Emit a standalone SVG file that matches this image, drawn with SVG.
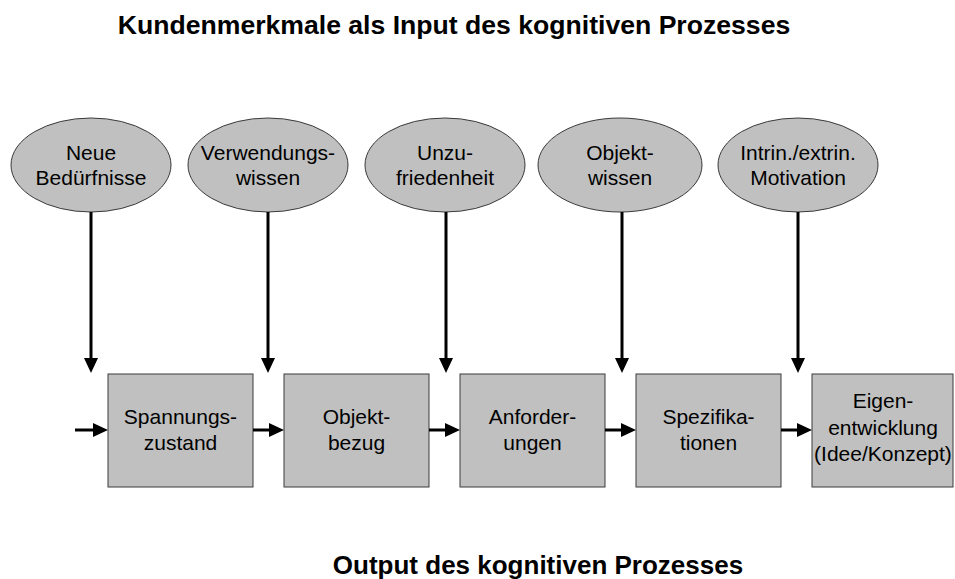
<svg xmlns="http://www.w3.org/2000/svg" width="955" height="579" viewBox="0 0 955 579">
<defs>
<marker id="ah" markerUnits="userSpaceOnUse" markerWidth="16" markerHeight="15" refX="0" refY="7" orient="auto" overflow="visible">
<path d="M0,0 L15,7 L0,14 Z" fill="#000"/>
</marker>
<style>
.n{fill:#C0C0C0;stroke:#3a3a3a;stroke-width:1}
.t{font-family:"Liberation Sans",Arial,sans-serif;font-size:21px;fill:#000;text-anchor:middle}
.h{font-family:"Liberation Sans",Arial,sans-serif;font-size:26px;font-weight:bold;fill:#000;text-anchor:middle}
.c line{stroke:#000;stroke-width:3;marker-end:url(#ah)}
</style>
</defs>
<rect width="955" height="579" fill="#fff"/>
<text class="h" x="454" y="34" style="font-size:26.6px">Kundenmerkmale als Input des kognitiven Prozesses</text>
<text class="h" x="538" y="574">Output des kognitiven Prozesses</text>

<g id="e1"><ellipse class="n" cx="91" cy="165" rx="80" ry="47"/><text class="t" x="91" y="160">Neue</text><text class="t" x="91" y="185">Bedürfnisse</text></g>
<g id="e2"><ellipse class="n" cx="268" cy="165" rx="80" ry="47"/><text class="t" x="268" y="160">Verwendungs-</text><text class="t" x="268" y="185">wissen</text></g>
<g id="e3"><ellipse class="n" cx="445" cy="165" rx="80" ry="47"/><text class="t" x="445" y="160">Unzu-</text><text class="t" x="445" y="185">friedenheit</text></g>
<g id="e4"><ellipse class="n" cx="620" cy="165" rx="82" ry="47"/><text class="t" x="620" y="160">Objekt-</text><text class="t" x="620" y="185">wissen</text></g>
<g id="e5"><ellipse class="n" cx="798" cy="165" rx="80" ry="47"/><text class="t" x="798" y="160">Intrin./extrin.</text><text class="t" x="798" y="185">Motivation</text></g>

<g id="b1"><rect class="n" x="108" y="374" width="145" height="113"/><text class="t" x="180.5" y="424">Spannungs-</text><text class="t" x="180.5" y="450">zustand</text></g>
<g id="b2"><rect class="n" x="284" y="374" width="145" height="113"/><text class="t" x="356.5" y="424">Objekt-</text><text class="t" x="356.5" y="450">bezug</text></g>
<g id="b3"><rect class="n" x="460" y="374" width="145" height="113"/><text class="t" x="532.5" y="424">Anforder-</text><text class="t" x="532.5" y="450">ungen</text></g>
<g id="b4"><rect class="n" x="636" y="374" width="145" height="113"/><text class="t" x="708.5" y="424">Spezifika-</text><text class="t" x="708.5" y="450">tionen</text></g>
<g id="b5"><rect class="n" x="812" y="374" width="141" height="113"/><text class="t" x="883" y="408">Eigen-</text><text class="t" x="883" y="435">entwicklung</text><text class="t" x="883" y="461">(Idee/Konzept)</text></g>

<g id="connectors" class="c">
<line x1="91" y1="212" x2="91" y2="358"/>
<line x1="268" y1="212" x2="268" y2="358"/>
<line x1="446" y1="212" x2="446" y2="358"/>
<line x1="622" y1="212" x2="622" y2="358"/>
<line x1="798" y1="212" x2="798" y2="358"/>
<line x1="75" y1="430" x2="93" y2="430"/>
<line x1="253" y1="430" x2="269" y2="430"/>
<line x1="429" y1="430" x2="445" y2="430"/>
<line x1="605" y1="430" x2="621" y2="430"/>
<line x1="781" y1="430" x2="797" y2="430"/>
</g>
</svg>
